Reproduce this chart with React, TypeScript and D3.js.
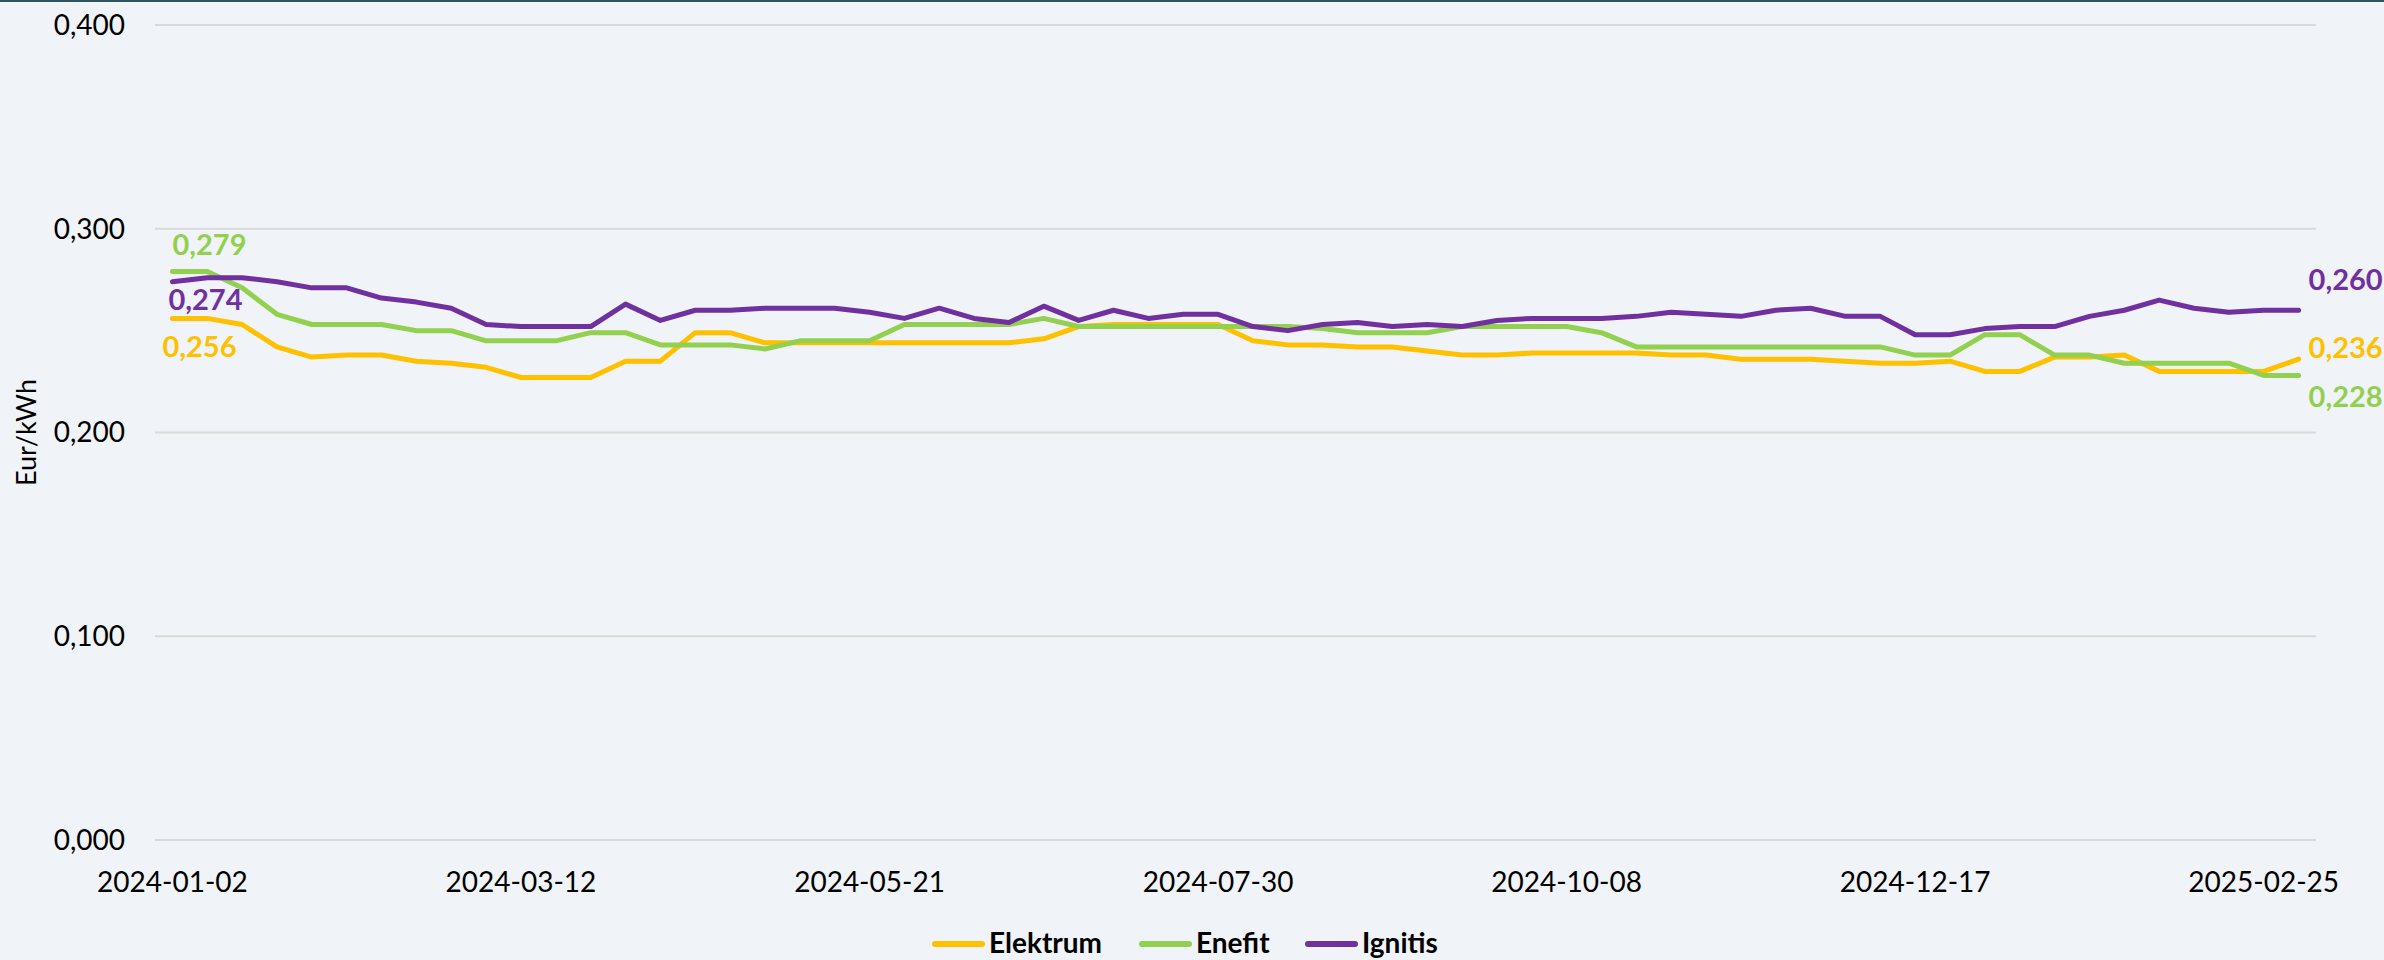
import React from "react";
import * as d3 from "d3";

const dates: string[] = [
  "2024-01-02","2024-01-09","2024-01-16","2024-01-23","2024-01-30","2024-02-06","2024-02-13","2024-02-20","2024-02-27","2024-03-05",
  "2024-03-12","2024-03-19","2024-03-26","2024-04-02","2024-04-09","2024-04-16","2024-04-23","2024-04-30","2024-05-07","2024-05-14",
  "2024-05-21","2024-05-28","2024-06-04","2024-06-11","2024-06-18","2024-06-25","2024-07-02","2024-07-09","2024-07-16","2024-07-23",
  "2024-07-30","2024-08-06","2024-08-13","2024-08-20","2024-08-27","2024-09-03","2024-09-10","2024-09-17","2024-09-24","2024-10-01",
  "2024-10-08","2024-10-15","2024-10-22","2024-10-29","2024-11-05","2024-11-12","2024-11-19","2024-11-26","2024-12-03","2024-12-10",
  "2024-12-17","2024-12-24","2024-12-31","2025-01-07","2025-01-14","2025-01-21","2025-01-28","2025-02-04","2025-02-11","2025-02-18",
  "2025-02-25","2025-03-04"
];

const elektrum: number[] = [
  0.256,0.256,0.253,0.242,0.237,0.238,0.238,0.235,0.234,0.232,
  0.227,0.227,0.227,0.235,0.235,0.249,0.249,0.244,0.244,0.244,
  0.244,0.244,0.244,0.244,0.244,0.246,0.252,0.253,0.253,0.253,
  0.253,0.245,0.243,0.243,0.242,0.242,0.240,0.238,0.238,0.239,
  0.239,0.239,0.239,0.238,0.238,0.236,0.236,0.236,0.235,0.234,
  0.234,0.235,0.230,0.230,0.237,0.237,0.238,0.230,0.230,0.230,
  0.230,0.236
];

const enefit: number[] = [
  0.279,0.279,0.271,0.258,0.253,0.253,0.253,0.250,0.250,0.245,
  0.245,0.245,0.249,0.249,0.243,0.243,0.243,0.241,0.245,0.245,
  0.245,0.253,0.253,0.253,0.253,0.256,0.252,0.252,0.252,0.252,
  0.252,0.252,0.252,0.251,0.249,0.249,0.249,0.252,0.252,0.252,
  0.252,0.249,0.242,0.242,0.242,0.242,0.242,0.242,0.242,0.242,
  0.238,0.238,0.248,0.248,0.238,0.238,0.234,0.234,0.234,0.234,
  0.228,0.228
];

const ignitis: number[] = [
  0.274,0.276,0.276,0.274,0.271,0.271,0.266,0.264,0.261,0.253,
  0.252,0.252,0.252,0.263,0.255,0.260,0.260,0.261,0.261,0.261,
  0.259,0.256,0.261,0.256,0.254,0.262,0.255,0.260,0.256,0.258,
  0.258,0.252,0.250,0.253,0.254,0.252,0.253,0.252,0.255,0.256,
  0.256,0.256,0.257,0.259,0.258,0.257,0.260,0.261,0.257,0.257,
  0.248,0.248,0.251,0.252,0.252,0.257,0.260,0.265,0.261,0.259,
  0.260,0.260
];

const yTicks: number[] = [0, 0.1, 0.2, 0.3, 0.4];
const xTickLabels: string[] = ["2024-01-02","2024-03-12","2024-05-21","2024-07-30","2024-10-08","2024-12-17","2025-02-25"];

const seriesNames = ["Elektrum", "Enefit", "Ignitis"];
const seriesColors = ["#FFC000", "#92D050", "#7030A0"];
const seriesData = [elektrum, enefit, ignitis];

const W = 2384;
const H = 960;
const FONT = "Lato, 'Open Sans', sans-serif";

export default function App() {
  const plotLeft = 155;
  const plotRight = 2316;
  const plotTop = 25;
  const plotBottom = 840;

  const x = d3.scalePoint<string>().domain(dates).range([plotLeft, plotRight]).padding(0.5);
  const y = d3.scaleLinear().domain([0, 0.4]).range([plotBottom, plotTop]);
  const fmt = (v: number) => d3.format(".3f")(v).replace(".", ",");

  const line = (vals: number[]) =>
    d3.line<number>().x((_, i) => x(dates[i]) as number).y((v) => y(v))(vals) || "";

  const first = dates[0];
  const last = dates[dates.length - 1];
  const fx = x(first) as number;
  const lx = x(last) as number;

  // label offsets (px) for first / last data labels
  const firstLabelDy = [y(elektrum[0]) + 0, 0, 0];

  const legendItems = [
    { x: 932, name: seriesNames[0], color: seriesColors[0] },
    { x: 1139, name: seriesNames[1], color: seriesColors[1] },
    { x: 1305, name: seriesNames[2], color: seriesColors[2] },
  ];

  return (
    <svg
      width={W}
      height={H}
      style={{ position: "absolute", left: 0, top: 0, display: "block" }}
      fontFamily={FONT}
    >
      <rect x={0} y={0} width={W} height={H} fill="#F0F3F7" />
      <rect x={0} y={0} width={W} height={2} fill="#2F5560" />

      {yTicks.map((t) => (
        <g key={t}>
          <line x1={plotLeft} x2={plotRight} y1={y(t)} y2={y(t)} stroke="#D9D9D9" strokeWidth={2} />
          <text x={125} y={y(t)} dy="0.35em" textAnchor="end" fontSize={28} fill="#000">
            {fmt(t)}
          </text>
        </g>
      ))}

      <text
        transform={`translate(${36},${(plotTop + plotBottom) / 2}) rotate(-90)`}
        textAnchor="middle"
        fontSize={27}
        fill="#000"
      >
        Eur/kWh
      </text>

      {xTickLabels.map((d) => (
        <text key={d} x={x(d) as number} y={892} textAnchor="middle" fontSize={28} fill="#000">
          {d}
        </text>
      ))}

      {seriesData.map((vals, k) => (
        <path
          key={seriesNames[k]}
          d={line(vals)}
          fill="none"
          stroke={seriesColors[k]}
          strokeWidth={5}
          strokeLinejoin="round"
          strokeLinecap="round"
        />
      ))}

      {/* first-point data labels */}
      <text x={fx} y={255} fontSize={29} fontWeight={700} fill={seriesColors[1]}>
        {fmt(enefit[0])}
      </text>
      <text x={fx - 4} y={310} fontSize={29} fontWeight={700} fill={seriesColors[2]}>
        {fmt(ignitis[0])}
      </text>
      <text x={fx - 10} y={357} fontSize={29} fontWeight={700} fill={seriesColors[0]}>
        {fmt(elektrum[0])}
      </text>

      {/* last-point data labels */}
      <text x={lx + 10} y={290} fontSize={29} fontWeight={700} fill={seriesColors[2]}>
        {fmt(ignitis[ignitis.length - 1])}
      </text>
      <text x={lx + 10} y={358} fontSize={29} fontWeight={700} fill={seriesColors[0]}>
        {fmt(elektrum[elektrum.length - 1])}
      </text>
      <text x={lx + 10} y={407} fontSize={29} fontWeight={700} fill={seriesColors[1]}>
        {fmt(enefit[enefit.length - 1])}
      </text>

      {legendItems.map((it) => (
        <g key={it.name}>
          <line x1={it.x + 3} x2={it.x + 50} y1={944} y2={944} stroke={it.color} strokeWidth={6} strokeLinecap="round" />
          <text x={it.x + 57} y={953} fontSize={28} fontWeight={700} fill="#000">
            {it.name}
          </text>
        </g>
      ))}
    </svg>
  );
}
